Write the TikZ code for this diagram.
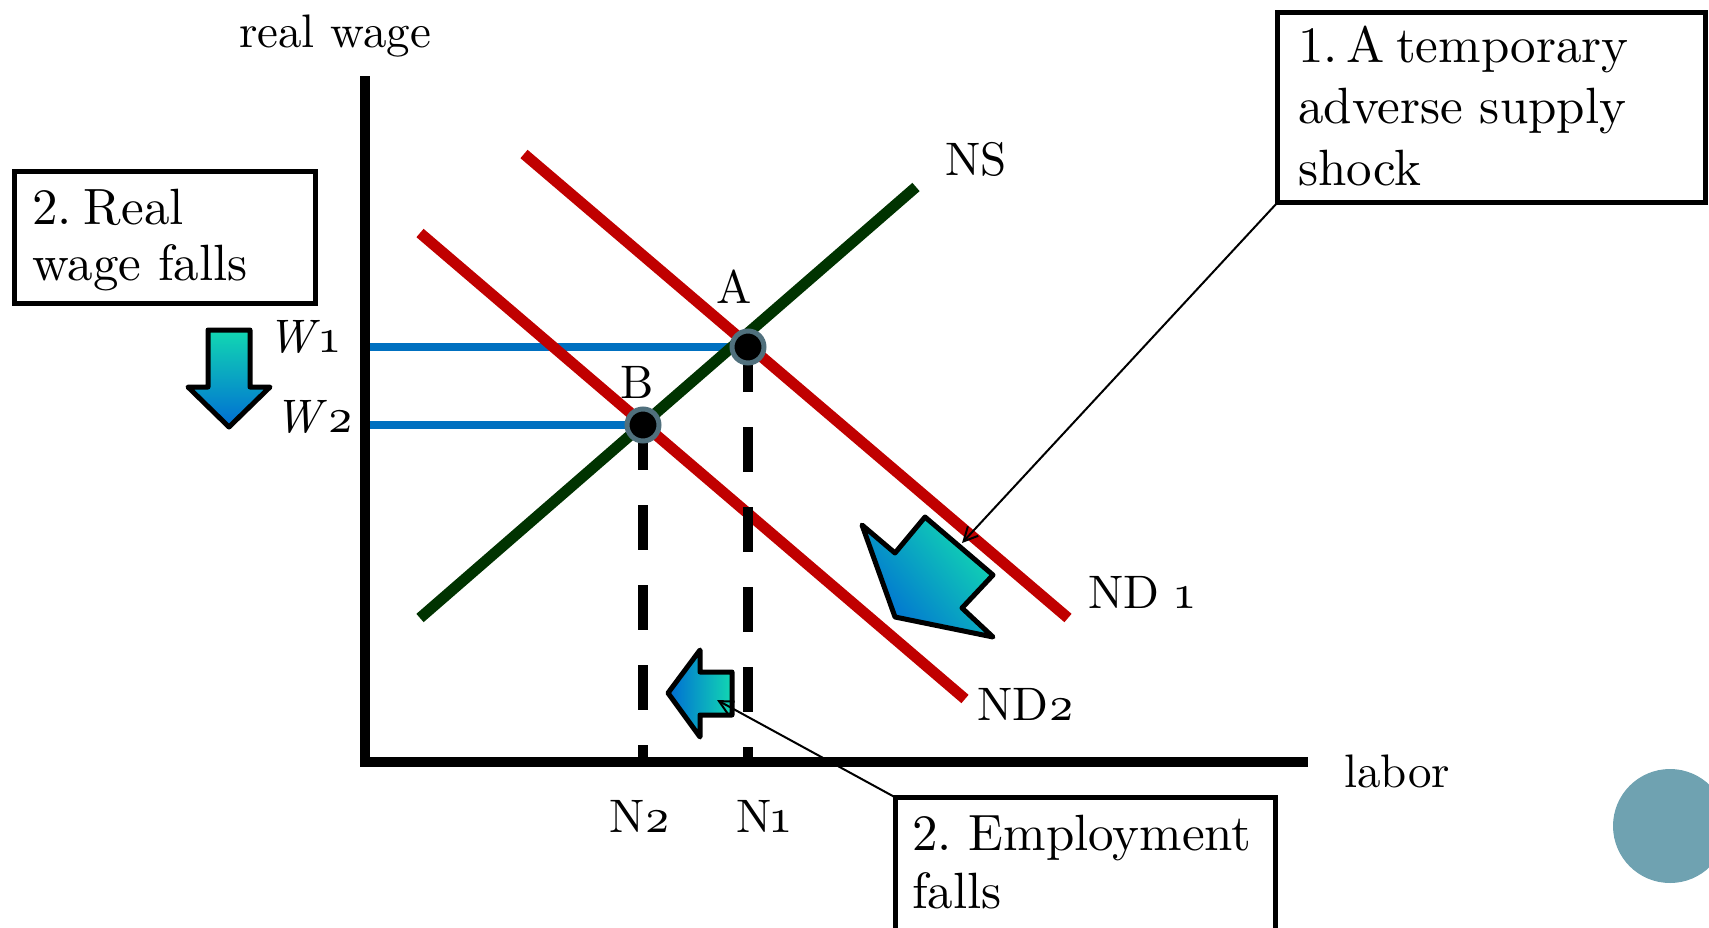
\RequirePackage{fix-cm}
\documentclass[tikz,border=0pt]{standalone}
\usepackage{fontspec}
\setmainfont{lmroman10-regular}[Extension=.otf, ItalicFont=lmroman10-italic, BoldFont=lmroman10-bold]
\usetikzlibrary{arrows.meta}
\definecolor{nsgreen}{RGB}{0,51,0}
\definecolor{ndred}{RGB}{192,0,0}
\definecolor{wblue}{RGB}{0,112,192}
\definecolor{ringgray}{RGB}{80,112,125}
\definecolor{dotgray}{RGB}{111,162,177}
\definecolor{arrteal}{RGB}{18,216,178}
\definecolor{arrcyan}{RGB}{34,208,224}
\definecolor{arrblue}{RGB}{0,108,212}
\frenchspacing
\begin{document}
\begin{tikzpicture}[x=1pt,y=-1pt,
  lbl/.style={font=\fontsize{47}{55}\selectfont, inner sep=0pt},
  boxframe/.style={draw, line width=5pt, inner sep=0pt, outer sep=0pt},
  curve/.style={line width=11pt},
  axis/.style={line width=10pt},
  level/.style={wblue, line width=8pt},
  guide/.style={line width=10pt, dash pattern=on 45pt off 35pt},
  eqpt/.style={circle, fill=black, draw=ringgray, line width=5pt, minimum size=32pt, inner sep=0pt},
  blockarrow/.style={draw=black, line width=5pt, line join=round,
    top color=arrteal, middle color=arrcyan, bottom color=arrblue},
  sidearrow/.style={draw=black, line width=5pt, line join=round,
    left color=arrblue, middle color=arrcyan, right color=arrteal},
  callout/.style={line width=2pt, -{Straight Barb[length=14pt,width=14pt]}}
]
\useasboundingbox (0,0) rectangle (1709,927);

% key points
\coordinate (O) at (365,762);
\coordinate (ytop) at (365,76);
\coordinate (xend) at (1308,762);
\coordinate (pA) at (748,347);
\coordinate (pB) at (643,425);

% wage levels
\draw[level] (O |- pA) -- (pA);
\draw[level] (O |- pB) -- (pB);

% labour demand and supply
\draw[curve, ndred] (524,154) -- (1068,618);
\draw[curve, ndred] (420,233) -- (965,699);
\draw[curve, nsgreen] (420,618) -- (916,187);

% employment guides
\draw[guide] (pA) -- (pA |- O);
\draw[guide] (pB) -- (pB |- O);

% axes
\draw[axis] (ytop) -- (O) -- (xend);

% equilibria
\node[eqpt] (A) at (pA) {};
\node[eqpt] (B) at (pB) {};
\node[lbl, anchor=base] at (734,303) {A};
\node[lbl, anchor=base] at (637,398) {B};

% axis and curve labels
\node[lbl, anchor=base] at (335,47) {real wage};
\node[lbl, anchor=base west] at (1344,787) {labor};
\node[lbl, anchor=base west] at (945,175) {NS};
\node[lbl, anchor=base west] at (1088,608) {ND \oldstylenums{1}};
\node[lbl, anchor=base west] at (977,720) {ND\oldstylenums{2}};
\node[lbl, anchor=base west] at (609,832) {N\oldstylenums{2}};
\node[lbl, anchor=base west] at (736,832) {N\oldstylenums{1}};
\node[lbl, anchor=base west] at (267,352) {\textit{W}\oldstylenums{1}};
\node[lbl, anchor=base west] at (274,432) {\textit{W}\oldstylenums{2}};

% block arrows
\shadedraw[blockarrow] (208,330) -- (250,330) -- (250,387) -- (270,387) -- (229,427)
  -- (188,387) -- (208,387) -- cycle;
\shadedraw[blockarrow, shading angle=-50] (895,617) -- (862,525) -- (895,553) -- (925,517)
  -- (993,575) -- (962,608) -- (993,637) -- cycle;
\shadedraw[sidearrow] (668,693) -- (700,650) -- (700,672) -- (732,672) -- (732,715)
  -- (700,715) -- (700,737) -- cycle;
\coordinate (shocktip) at (962,543);
\coordinate (emptip) at (717,700);

% text boxes
\node[boxframe, anchor=north west, minimum width=428pt, minimum height=190pt] (shock) at (1277.5,12.5) {};
\node[lbl, anchor=base west] at (1298,62)
  {\parbox[t]{400pt}{\fontsize{51}{61.5}\selectfont 1.\hskip 9pt A\hskip 11pt temporary\\adverse supply\\shock}};
\node[boxframe, anchor=north west, minimum width=301pt, minimum height=132pt] (wagebox) at (14.5,171.5) {};
\node[lbl, anchor=base west] at (32,224)
  {\parbox[t]{280pt}{\fontsize{51}{56}\selectfont 2.\hskip 12pt Real\\wage falls}};
\node[boxframe, anchor=north west, minimum width=380pt, minimum height=202pt] (empl) at (895.5,797.5) {};
\node[lbl, anchor=base west] at (912,850)
  {\parbox[t]{360pt}{\fontsize{51}{58}\selectfont 2. Employment\\falls}};

% callouts
\draw[callout] (shock.south west) -- (shocktip);
\draw[callout] (empl.north west) -- (emptip);

% corner dot
\fill[dotgray] (1670,826) circle[radius=57pt];
\end{tikzpicture}
\end{document}
